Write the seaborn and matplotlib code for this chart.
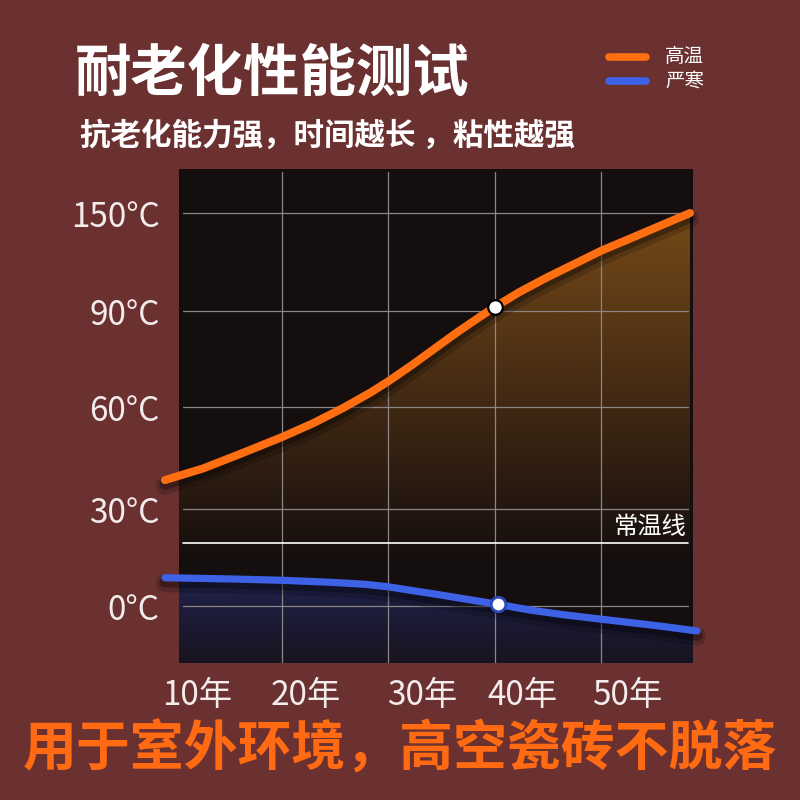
import numpy as np
import pandas as pd
import matplotlib
matplotlib.use("Agg")
import matplotlib.pyplot as plt
import matplotlib.patheffects as pe
from matplotlib.lines import Line2D
import seaborn as sns

# values (y is the position on the uneven °C scale)
hot_years = [8.99, 12.57, 15.77, 20.01, 22.92, 25.74, 28.28, 29.97, 32.32, 34.86,
             36.46, 38.63, 40.01, 42.24, 44.93, 47.38, 50.10, 52.74, 55.56, 58.38]
hot_level = [1.282, 1.400, 1.535, 1.720, 1.860, 2.015, 2.170, 2.285, 2.460, 2.660,
             2.785, 2.945, 3.043, 3.190, 3.345, 3.475, 3.620, 3.740, 3.870, 4.0]
cold_years = [8.99, 15.30, 20.0, 24.70, 27.81, 29.97, 32.51, 34.39, 37.03, 40.32,
              43.33, 46.43, 50.10, 52.74, 55.84, 59.04]
cold_level = [0.288, 0.275, 0.262, 0.241, 0.221, 0.196, 0.153, 0.122, 0.075, 0.017,
              -0.041, -0.088, -0.135, -0.168, -0.208, -0.254]
hot_mark = (40.01, 3.043)
cold_mark = (40.32, 0.017)
room_level = 0.64

ytick_pos = [0, 0.987, 2.025, 3.0, 4.0]
ytick_labels = ["0°C", "30°C", "60°C", "90°C", "150°C"]
xtick_pos = [12.0, 22.2, 33.2, 42.6, 52.5]
xtick_labels = ["10年", "20年", "30年", "40年", "50年"]
grid_years = [20, 30, 40, 50]

BG = "#6b3131"
PLOT_BG = "#150e0e"
ORANGE = "#ff6f12"
BLUE = "#3d62e6"

sns.set_theme(style="dark")
plt.rcParams["font.family"] = ["Noto Sans CJK SC", "DejaVu Sans"]
plt.rcParams["axes.unicode_minus"] = False

fig = plt.figure(figsize=(8, 8), dpi=100, facecolor=BG)
ax = fig.add_axes([179 / 800, 1 - 663 / 800, 514 / 800, 494 / 800])
ax.set_facecolor(PLOT_BG)
xlim = (10.31, 58.66)
ylim = (-0.58, 4.448)
ax.set_xlim(*xlim)
ax.set_ylim(*ylim)


def gradient_fill(x, y, color, y_top, y_bot, a_top, a_bot):
    poly = ax.fill_between(x, y, ylim[0] - 1, facecolor="none", edgecolor="none")
    rgb = matplotlib.colors.to_rgb(color)
    yv = np.linspace(ylim[0], ylim[1], 300)
    alpha = np.interp(yv, [y_bot, y_top], [a_bot, a_top])
    img = np.zeros((300, 2, 4))
    img[:, :, :3] = rgb
    img[:, :, 3] = alpha[:, None]
    im = ax.imshow(img, extent=[xlim[0], xlim[1], ylim[0], ylim[1]], origin="lower",
                   aspect="auto", interpolation="bilinear", zorder=1)
    im.set_clip_path(poly.get_paths()[0], transform=ax.transData)


gradient_fill(hot_years, hot_level, "#81501a", 4.1, 0.45, 0.92, 0.0)
gradient_fill(cold_years, cold_level, "#29327e", 0.25, -0.58, 0.55, 0.15)

# grid
for yp in ytick_pos:
    ax.axhline(yp, xmin=0.008, xmax=0.99, color="#8c8686", lw=0.9, zorder=2)
for gx in grid_years:
    ax.axvline(gx, ymin=0, ymax=0.994, color="#8c8686", lw=0.9, zorder=2)

# room temperature line
ax.axhline(room_level, xmin=0.008, xmax=0.99, color="white", lw=1.2, zorder=3)
ax.text(58.05, 0.80, "常温线", color="white", fontsize=17.5, ha="right", va="center", zorder=3)

hot_df = pd.DataFrame({"year": hot_years, "level": hot_level})
cold_df = pd.DataFrame({"year": cold_years, "level": cold_level})

shadow = [pe.SimpleLineShadow(offset=(0, -4), shadow_color="black", alpha=0.18, linewidth=13),
          pe.SimpleLineShadow(offset=(0, -3), shadow_color="black", alpha=0.3, linewidth=8),
          pe.Normal()]
sns.lineplot(data=hot_df, x="year", y="level", ax=ax, color=ORANGE, lw=5.8,
             solid_capstyle="round", solid_joinstyle="round", clip_on=False, zorder=5,
             path_effects=shadow)
sns.lineplot(data=cold_df, x="year", y="level", ax=ax, color=BLUE, lw=5.2,
             solid_capstyle="round", solid_joinstyle="round", clip_on=False, zorder=5,
             path_effects=shadow)
ax.plot(*hot_mark, "o", ms=10.5, mfc="white", mec="black", mew=1.6, zorder=6)
ax.plot(*cold_mark, "o", ms=10.5, mfc="white", mec="#2a48b8", mew=2.0, zorder=6)

ax.set_xticks(xtick_pos)
ax.set_xticklabels(xtick_labels)
ax.set_yticks(ytick_pos)
ax.set_yticklabels(ytick_labels)
ax.tick_params(axis="both", length=0, labelsize=24, colors="#f4ecec")
ax.tick_params(axis="x", pad=11)
ax.tick_params(axis="y", pad=14)
ax.set_xlabel("")
ax.set_ylabel("")
ax.grid(False)
for s in ax.spines.values():
    s.set_visible(False)

# titles
fig.text(75 / 800, 1 - 75 / 800, "耐老化性能测试", fontsize=40.6, weight="bold",
         color="white", ha="left", va="center")
fig.text(80 / 800, 1 - 136 / 800, "抗老化能力强，时间越长 ，粘性越强", fontsize=22,
         weight="bold", color="white", ha="left", va="center")
fig.text(400 / 800, 1 - 750 / 800, "用于室外环境，高空瓷砖不脱落", fontsize=38.8,
         weight="bold", color="#ff6a13", ha="center", va="center")

# legend
for yy, col, lab in [(57, ORANGE, "高温"), (81, BLUE, "严寒")]:
    fig.add_artist(Line2D([609 / 800, 646 / 800], [1 - yy / 800, 1 - yy / 800], color=col,
                          lw=5.5, solid_capstyle="round", transform=fig.transFigure))
    fig.text(665 / 800, 1 - yy / 800, lab, fontsize=14, color="white", ha="left", va="center")

fig.savefig("out.png", dpi=100, facecolor=BG)
